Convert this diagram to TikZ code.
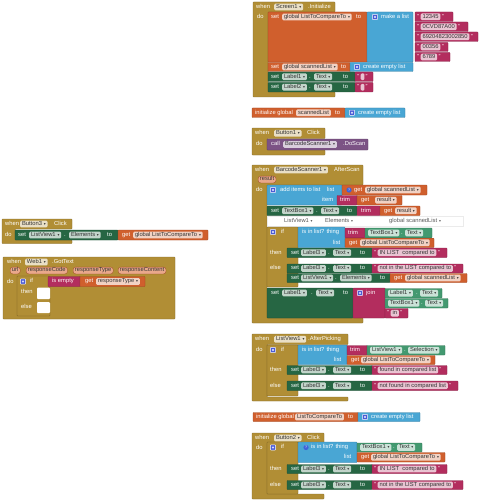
\documentclass[tikz,border=0pt]{standalone}
\usepackage{fontspec}
\setmainfont{Liberation Sans}
\newfontfamily\dvf{DejaVu Sans}
\definecolor{gold}{HTML}{B18E35}
\definecolor{orng}{HTML}{D05F2D}
\definecolor{lblue}{HTML}{49A6D4}
\definecolor{mag}{HTML}{B32D5E}
\definecolor{dgrn}{HTML}{266643}
\definecolor{lgrn}{HTML}{439970}
\definecolor{purp}{HTML}{7C5385}
\definecolor{gearc}{HTML}{4A5BD6}
\definecolor{qblue}{HTML}{3F63D8}
\definecolor{pillc}{HTML}{E9A88B}
\newcommand\bkfont{\fontsize{5.8}{6.5}\selectfont}
\newcommand\mydd{\hspace{1.8pt}{\dvf\fontsize{3.8}{4}\selectfont ▾}}
\tikzset{
  blk/.style={line width=0.35pt, rounded corners=0.6pt},
  lbl/.style={anchor=west, inner sep=0pt, text=white, font=\bkfont, text height=4.1pt, text depth=1.2pt},
  fld/.style={anchor=west, inner xsep=1.8pt, inner ysep=0pt, minimum height=6.8pt, text height=4.1pt, text depth=1.2pt, rounded corners=1.2pt, fill=white, fill opacity=0.72, text opacity=1, text=black!80, font=\bkfont},
  pil/.style={fld, fill=pillc, fill opacity=1, draw=orng!75!black, line width=0.3pt, rounded corners=2.5pt},
  glbl/.style={lbl, text=black!65}
}
\newcommand\myevt[7]{\draw[blk,fill=gold,draw=gold!75!black] (#1,#2) -- (#3,#2) -- (#3,#4) -- (#5,#4) -- (#5,#6) -- (#3,#6) -- (#3,#7) -- (#1,#7) -- cycle;}
\newcommand\mybk[5]{\draw[blk,fill=#5,draw=#5!75!black] (#1,#2) rectangle (#3,#4);}
\newcommand\mylb[3]{\node[lbl] at (#1,#2) {#3};}
\newcommand\myfl[3]{\node[fld] at (#1,#2) {#3};}
\newcommand\mypl[3]{\node[pil] at (#1,#2) {#3};}
\newcommand\mygear[2]{\draw[fill=gearc,draw=white,line width=0.35pt,rounded corners=0.6pt] ({#1-2.6},{#2-2.6}) rectangle ({#1+2.6},{#2+2.6}); \fill[white] (#1,#2) circle (1.1pt); \fill[gearc] (#1,#2) circle (0.45pt);}
\newcommand\myq[2]{\fill[qblue] (#1,#2) circle (2.6pt); \node[inner sep=0pt, text=white, font=\fontsize{3.6}{4}\selectfont] at (#1,#2) {?};}
\newcommand\mystr[5]{\mybk{#1}{#2}{#3}{#4}{mag}\node[lbl] (sq) at ({#1+2.2},{(#2+#4)/2}) {"};\node[fld] (sf) at ([xshift=1pt]sq.east) {#5};\node[lbl] at ([xshift=1pt]sf.east) {"};}
\newcommand\mylthree[3]{\mybk{287}{#1}{372}{#2}{dgrn}\mylb{291}{#3}{set}\myfl{301}{#3}{Label3\mydd}\mylb{328}{#3}{.}\myfl{333}{#3}{Text\mydd}\mylb{360}{#3}{to}}
\begin{document}
\begin{tikzpicture}[x=1pt,y=-1pt]
\fill[white] (0,0) rectangle (479,500);
\useasboundingbox (0,0) rectangle (479,500);

% ---------------- Screen1.Initialize
\myevt{253}{2}{335}{12}{268}{92}{97}
\mylb{256}{7}{when}\myfl{274}{7}{Screen1\mydd}\mylb{308}{7}{.Initialize}
\mylb{257}{17}{do}
\mybk{268}{12}{367}{62}{orng}
\mylb{271}{17}{set}\myfl{282}{17}{global ListToCompareTo\mydd}\mylb{356}{17}{to}
\mybk{367}{12}{413}{62}{lblue}
\mygear{375}{17}\mylb{381}{17}{make a list}
\mystr{415}{12}{453}{21.5}{12345}
\mystr{415}{22}{468}{31.5}{0CVD87A00}
\mystr{415}{32}{478}{41.5}{69204823002850}
\mystr{415}{42.5}{448}{51.5}{00356}
\mystr{415}{52.5}{450}{61.5}{6789}
\mybk{268}{62.5}{350}{71.5}{orng}
\mylb{271}{67}{set}\myfl{282}{67}{global scannedList\mydd}\mylb{341}{67}{to}
\mybk{350}{62.5}{413}{71.5}{lblue}
\mygear{357}{67}\mylb{363}{67}{create empty list}
\mybk{268}{72}{355}{81.5}{dgrn}
\mylb{271}{76.7}{set}\myfl{282}{76.7}{Label1\mydd}\mylb{309}{76.7}{.}\myfl{314}{76.7}{Text\mydd}\mylb{343}{76.7}{to}
\mystr{355}{72}{373}{81.5}{\hspace{3pt}}
\mybk{268}{82.5}{355}{92}{dgrn}
\mylb{271}{87.2}{set}\myfl{282}{87.2}{Label2\mydd}\mylb{309}{87.2}{.}\myfl{314}{87.2}{Text\mydd}\mylb{343}{87.2}{to}
\mystr{355}{82.5}{373}{92}{\hspace{3pt}}

% ---------------- initialize global scannedList
\mybk{252}{108}{345}{117.5}{orng}
\mylb{255}{112.8}{initialize global}\myfl{296}{112.8}{scannedList}\mylb{335}{112.8}{to}
\mybk{345}{108}{405}{117.5}{lblue}
\mygear{352}{112.8}\mylb{358}{112.8}{create empty list}

% ---------------- Button1.Click
\myevt{252}{128}{325}{138.5}{267}{150}{155}
\mylb{255}{133.3}{when}\myfl{274}{133.3}{Button1\mydd}\mylb{307}{133.3}{Click}
\mylb{256}{144.5}{do}
\mybk{267}{139}{368}{150}{purp}
\mylb{271}{144.5}{call}\myfl{283}{144.5}{BarcodeScanner1\mydd}\mylb{343}{144.5}{.DoScan}

% ---------------- BarcodeScanner1.AfterScan
\myevt{252}{165}{363}{185}{267}{318}{323}
\mylb{255}{170}{when}\myfl{274}{170}{BarcodeScanner1\mydd}\mylb{334}{170}{AfterScan}
\mypl{258}{179.5}{result}
\mylb{256}{190}{do}
\mybk{267}{185}{342}{205}{lblue}
\mygear{273}{190}\mylb{280}{190}{add items to list}\mylb{327}{190}{list}\mylb{322}{200.2}{item}
\mybk{342}{185}{427}{195}{orng}
\myq{349}{190}\mylb{354}{190}{get}\myfl{365}{190}{global scannedList\mydd}
\mybk{337}{195.5}{357}{205}{mag}\mylb{340}{200.2}{trim}
\mybk{357}{195.5}{402}{205}{orng}\mylb{361}{200.2}{get}\myfl{375}{200.2}{result\mydd}
\mybk{267}{206}{357}{215.5}{dgrn}
\mylb{271}{210.8}{set}\myfl{282}{210.8}{TextBox1\mydd}\mylb{316}{210.8}{.}\myfl{321}{210.8}{Text\mydd}\mylb{347}{210.8}{to}
\mybk{357}{206}{380}{215.5}{mag}\mylb{361}{210.8}{trim}
\mybk{380}{206}{420}{215.5}{orng}\mylb{384}{210.8}{get}\myfl{395}{210.8}{result\mydd}
\draw[fill=white,draw=black!8,line width=0.3pt] (267,216.5) rectangle (463,226);
\node[glbl] at (284,221.3) {ListView1\mydd};
\node[glbl] at (325,221.3) {Elements\mydd};
\node[glbl] at (389,221.3) {global scannedList\mydd};
\draw[blk,fill=gold,draw=gold!70!black] (267,227) rectangle (298,287);
\mygear{273}{232}\mylb{281}{232}{if}\mylb{270}{252.7}{then}\mylb{270}{268.5}{else}
\mybk{298}{227}{345}{247.5}{lblue}
\mylb{302}{232.5}{is in list? thing}\mylb{333}{242.8}{list}
\mybk{345}{228}{365}{237.8}{mag}\mylb{348}{232.9}{trim}
\mybk{365}{228}{432}{237.8}{lgrn}
\myfl{368}{232.9}{TextBox1\mydd}\mylb{401}{232.9}{.}\myfl{405}{232.9}{Text\mydd}
\mybk{345}{238.2}{434}{247.5}{orng}
\mylb{349}{242.8}{get}\myfl{360}{242.8}{global ListToCompareTo\mydd}
\mylthree{248}{257.5}{252.7}
\mystr{372}{248}{447}{257.5}{IN LIST\ \ compared to}
\mylthree{264}{273}{268.5}
\mystr{372}{264}{463}{273}{not in the LIST compared to}
\mybk{287}{273.5}{390}{282.5}{dgrn}
\mylb{291}{278}{set}\myfl{301}{278}{ListView1\mydd}\mylb{335}{278}{.}\myfl{340}{278}{Elements\mydd}\mylb{380}{278}{to}
\mybk{390}{273.5}{467}{282.5}{orng}
\mylb{394}{278}{get}\myfl{405}{278}{global scannedList\mydd}
\mybk{267}{288}{353}{318}{dgrn}
\mylb{271}{293}{set}\myfl{282}{293}{Label1\mydd}\mylb{311}{293}{.}\myfl{316}{293}{Text\mydd}\mylb{343}{293}{to}
\mybk{353}{288}{385}{318}{mag}
\mygear{360}{293}\mylb{366}{293}{join}
\mybk{385}{288.5}{442}{298}{lgrn}
\myfl{388}{293.2}{Label1\mydd}\mylb{416}{293.2}{.}\myfl{420}{293.2}{Text\mydd}
\mybk{385}{298.5}{448}{308}{lgrn}
\myfl{388}{303.2}{TextBox1\mydd}\mylb{421}{303.2}{.}\myfl{425}{303.2}{Text\mydd}
\mystr{385}{308.5}{408}{318}{in}

% ---------------- Button3.Click
\myevt{2}{219}{72}{229}{15}{240}{243.5}
\mylb{5}{224}{when}\myfl{20}{224}{Button3\mydd}\mylb{54}{224}{Click}
\mylb{5}{235}{do}
\mybk{15}{230}{118}{240}{dgrn}
\mylb{18}{235}{set}\myfl{29}{235}{ListView1\mydd}\mylb{64}{235}{.}\myfl{69}{235}{Elements\mydd}\mylb{107}{235}{to}
\mybk{118}{230}{208}{240}{orng}
\mylb{122}{235}{get}\myfl{133}{235}{global ListToCompareTo\mydd}

% ---------------- Web1.GotText
\draw[blk,fill=gold,draw=gold!75!black] (3,257) rectangle (175,319);
\mylb{7}{262}{when}\myfl{25}{262}{Web1\mydd}\mylb{52}{262}{.GotText}
\mypl{10}{270.5}{url}\mypl{26}{270.5}{responseCode}\mypl{73}{270.5}{responseType}\mypl{118}{270.5}{responseContent}
\mylb{7}{282}{do}
\draw[blk,fill=gold,draw=gold!65!black] (17,276) rectangle (50,316);
\fill[white,rounded corners=1pt] (37,287.5) rectangle (50,299);
\fill[white,rounded corners=1pt] (37,302) rectangle (50,313);
\mygear{23}{281.5}\mylb{30}{281.5}{if}\mylb{21}{292.5}{then}\mylb{21}{307.5}{else}
\mybk{48}{276.5}{80}{286.5}{mag}\mylb{52}{281.5}{is empty}
\mybk{80}{276.5}{145}{286.5}{orng}
\mylb{85}{281.5}{get}\myfl{96}{281.5}{responseType\mydd}

% ---------------- ListView1.AfterPicking
\myevt{252}{334}{348}{344.5}{267}{397}{401}
\mylb{255}{339.3}{when}\myfl{274}{339.3}{ListView1\mydd}\mylb{308}{339.3}{.AfterPicking}
\mylb{256}{350}{do}
\draw[blk,fill=gold,draw=gold!70!black] (267,345) rectangle (298,396);
\mygear{273}{350}\mylb{281}{350}{if}\mylb{270}{370}{then}\mylb{270}{385.8}{else}
\mybk{298}{345}{347}{364.5}{lblue}
\mylb{302}{350.2}{is in list? thing}\mylb{334}{360}{list}
\mybk{347}{345.5}{367}{355}{mag}\mylb{350}{350.2}{trim}
\mybk{367}{345.5}{445}{355}{lgrn}
\myfl{370}{350.2}{ListView1\mydd}\mylb{404}{350.2}{.}\myfl{408}{350.2}{Selection\mydd}
\mybk{347}{355.5}{435}{364.5}{orng}
\mylb{351}{360}{get}\myfl{361}{360}{global ListToCompareTo\mydd}
\mylthree{365.5}{374.5}{370}
\mystr{372}{365.5}{447}{374.5}{found in compared list}
\mylthree{381}{390.5}{385.8}
\mystr{372}{381}{458}{390.5}{not found in compared list}

% ---------------- initialize global ListToCompareTo
\mybk{253}{412.5}{358}{421.5}{orng}
\mylb{256}{417}{initialize global}\myfl{295}{417}{ListToCompareTo}\mylb{348}{417}{to}
\mybk{358}{412.5}{420}{421.5}{lblue}
\mygear{365}{417}\mylb{371}{417}{create empty list}

% ---------------- Button2.Click
\myevt{252}{433}{324}{443}{267}{494}{499}
\mylb{255}{438}{when}\myfl{274}{438}{Button2\mydd}\mylb{307}{438}{Click}
\mylb{256}{448}{do}
\draw[blk,fill=gold,draw=gold!70!black] (267,442) rectangle (298,494);
\mygear{273}{447.5}\mylb{281}{447.5}{if}\mylb{270}{469}{then}\mylb{270}{485}{else}
\mybk{298}{442}{357}{462.5}{lblue}
\myq{306}{447.5}\mylb{311}{447.5}{is in list? thing}\mylb{344}{457.3}{list}
\mybk{357}{443}{422}{452}{lgrn}
\myfl{360}{447.5}{TextBox1\mydd}\mylb{393}{447.5}{.}\myfl{397}{447.5}{Text\mydd}
\mybk{357}{452.5}{445}{462}{orng}
\mylb{361}{457.3}{get}\myfl{371}{457.3}{global ListToCompareTo\mydd}
\mylthree{464.5}{473.5}{469}
\mystr{372}{464.5}{447}{473.5}{IN LIST\ \ compared to}
\mylthree{480.5}{489.5}{485}
\mystr{372}{480.5}{463}{489.5}{not in the LIST compared to}
\end{tikzpicture}
\end{document}
